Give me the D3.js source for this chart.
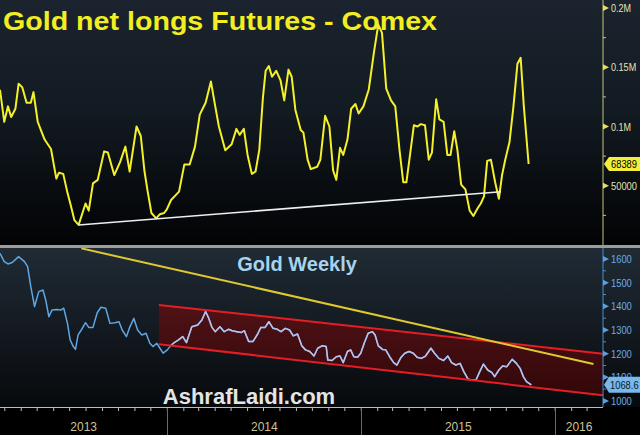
<!DOCTYPE html>
<html><head><meta charset="utf-8">
<script src="https://cdn.jsdelivr.net/npm/d3@7"></script>
<style>body{margin:0;background:#000;overflow:hidden}</style>
</head><body><svg id="c" width="640" height="435"></svg>
<script>
// ---------- DATA ----------
const netLongDates = ["2013-02-20","2013-02-28","2013-03-07","2013-03-13","2013-03-21","2013-03-27","2013-04-03","2013-04-11","2013-04-19","2013-04-24","2013-05-02","2013-05-08","2013-05-15","2013-05-27","2013-06-06","2013-06-11","2013-06-19","2013-06-27","2013-07-04","2013-07-10","2013-07-18","2013-07-31","2013-08-06","2013-08-14","2013-08-23","2013-09-04","2013-09-11","2013-09-23","2013-10-04","2013-10-14","2013-10-22","2013-11-04","2013-11-12","2013-11-19","2013-11-25","2013-12-02","2013-12-11","2013-12-18","2013-12-26","2013-12-31","2014-01-08","2014-01-23","2014-02-02","2014-02-12","2014-02-22","2014-03-03","2014-03-14","2014-03-24","2014-03-31","2014-04-08","2014-04-20","2014-05-02","2014-05-11","2014-05-17","2014-05-25","2014-06-01","2014-06-09","2014-06-16","2014-06-23","2014-06-30","2014-07-05","2014-07-11","2014-07-17","2014-07-25","2014-08-02","2014-08-09","2014-08-17","2014-08-23","2014-08-30","2014-09-09","2014-09-14","2014-09-22","2014-09-28","2014-10-10","2014-10-16","2014-10-25","2014-11-02","2014-11-09","2014-11-15","2014-11-22","2014-11-28","2014-12-06","2014-12-13","2014-12-21","2014-12-27","2015-01-05","2015-01-15","2015-01-25","2015-02-02","2015-02-09","2015-02-17","2015-02-26","2015-03-06","2015-03-14","2015-03-21","2015-03-27","2015-04-10","2015-04-17","2015-04-23","2015-05-01","2015-05-08","2015-05-14","2015-05-22","2015-05-28","2015-06-05","2015-06-12","2015-06-18","2015-06-25","2015-07-01","2015-07-08","2015-07-16","2015-07-24","2015-07-31","2015-08-08","2015-08-14","2015-08-20","2015-08-26","2015-09-02","2015-09-10","2015-09-17","2015-09-23","2015-09-29","2015-10-07","2015-10-14","2015-10-22","2015-10-28","2015-11-03","2015-11-12"];
const netLongValues = [131000,104000,117000,108000,115000,136000,133000,120000,120000,129000,104000,97000,89000,81000,56000,61000,60000,44000,32000,21000,17000,35000,29000,52000,55000,79000,78000,59000,70000,83000,62000,100000,92000,62000,45000,27000,22500,26000,27000,30000,38000,45000,68000,68000,83000,110000,120000,138000,120000,100000,80000,85000,98000,93000,98000,76000,60000,62000,80000,125000,147000,151000,142000,147000,139000,122000,148000,142000,114000,97000,95000,72000,64000,66000,72000,109000,100000,63000,55000,82000,76000,89000,115000,119000,111000,117000,131000,163000,186000,179000,132000,122000,117000,80000,53000,53000,101000,100000,102000,101000,72000,78000,123000,106000,104000,76000,76000,96000,80000,51000,47000,29000,24500,31000,35000,41000,71000,72000,53000,39000,59000,72000,87000,115000,153000,158000,117000,68389];

const goldDates = ["2013-02-20","2013-02-28","2013-03-07","2013-03-15","2013-03-27","2013-04-07","2013-04-13","2013-04-19","2013-04-26","2013-05-04","2013-05-12","2013-05-17","2013-05-23","2013-05-29","2013-06-07","2013-06-15","2013-06-20","2013-06-27","2013-07-02","2013-07-08","2013-07-12","2013-07-17","2013-07-23","2013-07-31","2013-08-06","2013-08-14","2013-08-22","2013-08-29","2013-09-07","2013-09-15","2013-09-24","2013-10-02","2013-10-08","2013-10-16","2013-10-22","2013-10-30","2013-11-06","2013-11-14","2013-11-22","2013-11-29","2013-12-05","2013-12-12","2013-12-18","2013-12-24","2014-01-01","2014-01-07","2014-01-14","2014-01-22","2014-01-30","2014-02-06","2014-02-16","2014-02-27","2014-03-07","2014-03-14","2014-03-20","2014-03-26","2014-04-01","2014-04-10","2014-04-18","2014-04-26","2014-05-03","2014-05-12","2014-05-20","2014-05-26","2014-06-03","2014-06-11","2014-06-20","2014-06-26","2014-07-04","2014-07-11","2014-07-19","2014-07-27","2014-08-03","2014-08-11","2014-08-19","2014-08-26","2014-09-03","2014-09-11","2014-09-18","2014-09-26","2014-10-04","2014-10-11","2014-10-19","2014-10-27","2014-10-30","2014-11-07","2014-11-15","2014-11-22","2014-11-28","2014-12-06","2014-12-12","2014-12-18","2014-12-25","2014-12-31","2015-01-07","2015-01-14","2015-01-22","2015-01-27","2015-02-02","2015-02-10","2015-02-16","2015-02-24","2015-03-03","2015-03-09","2015-03-17","2015-03-24","2015-04-01","2015-04-09","2015-04-16","2015-04-24","2015-05-02","2015-05-12","2015-05-19","2015-05-27","2015-06-05","2015-06-13","2015-06-20","2015-06-28","2015-07-06","2015-07-13","2015-07-21","2015-07-29","2015-08-05","2015-08-12","2015-08-19","2015-08-27","2015-09-04","2015-09-09","2015-09-17","2015-09-24","2015-10-02","2015-10-12","2015-10-20","2015-10-27","2015-11-02","2015-11-08","2015-11-17"];
const goldValues = [1624,1589,1579,1585,1610,1589,1568,1483,1399,1462,1469,1427,1356,1385,1387,1385,1392,1328,1258,1230,1218,1279,1300,1331,1311,1311,1373,1396,1392,1328,1331,1335,1300,1272,1311,1349,1300,1279,1286,1244,1230,1244,1223,1202,1216,1233,1247,1258,1272,1247,1314,1321,1342,1378,1349,1311,1293,1314,1293,1303,1297,1293,1289,1297,1251,1251,1283,1311,1311,1335,1307,1303,1293,1307,1300,1275,1283,1233,1216,1209,1190,1223,1233,1230,1173,1171,1187,1190,1162,1209,1216,1187,1185,1202,1247,1286,1293,1279,1233,1218,1216,1185,1162,1152,1185,1202,1209,1202,1185,1180,1190,1223,1202,1180,1171,1190,1162,1152,1159,1124,1092,1089,1089,1124,1156,1131,1120,1103,1131,1148,1145,1176,1159,1138,1103,1082,1068.6];

const netLongSupportDates = ["2013-07-18","2015-09-21"];
const netLongSupportValues = [16900,45000];
const goldTrendDates = ["2013-07-23","2016-03-13"];
const goldTrendValues = [1645,1156];
const channelDates = ["2013-12-16","2016-03-31"];
const channelUpper = [1406,1200];
const channelLower = [1240,1024];

const topTicks = [50000,100000,150000,200000];
const topTickLabels = ["50000","0.1M","0.15M","0.2M"];
const bottomTicks = [1000,1100,1200,1300,1400,1500,1600];
const yearLabels = ["2013","2014","2015","2016"];
const lastNetLongLabel = "68389";
const lastGoldLabel = "1068.6";

// ---------- CHART ----------
const W = 640, H = 435;
const plotRight = 603;
const parse = d3.timeParse("%Y-%m-%d");
const svg = d3.select("#c");
const defs = svg.append("defs");

const gTop = defs.append("linearGradient").attr("id","bgTop").attr("x1",0).attr("y1",0).attr("x2",0).attr("y2",1);
gTop.append("stop").attr("offset","0%").attr("stop-color","#1b242e");
gTop.append("stop").attr("offset","45%").attr("stop-color","#121a22");
gTop.append("stop").attr("offset","100%").attr("stop-color","#020304");
const gBot = defs.append("linearGradient").attr("id","bgBot").attr("x1",0).attr("y1",0).attr("x2",0).attr("y2",1);
gBot.append("stop").attr("offset","0%").attr("stop-color","#202b35");
gBot.append("stop").attr("offset","100%").attr("stop-color","#07090c");
const gCh = defs.append("linearGradient").attr("id","chan").attr("x1",0).attr("y1",0).attr("x2",0).attr("y2",1);
gCh.append("stop").attr("offset","0%").attr("stop-color","#5a1014").attr("stop-opacity",0.85);
gCh.append("stop").attr("offset","100%").attr("stop-color","#3a0608").attr("stop-opacity",0.85);

defs.append("clipPath").attr("id","clipTop").append("rect").attr("x",0).attr("y",0).attr("width",plotRight).attr("height",245);
defs.append("clipPath").attr("id","clipBot").append("rect").attr("x",0).attr("y",248).attr("width",plotRight).attr("height",159);

// backgrounds
svg.append("rect").attr("x",0).attr("y",0).attr("width",W).attr("height",245).attr("fill","url(#bgTop)");
svg.append("rect").attr("x",0).attr("y",248).attr("width",W).attr("height",159).attr("fill","url(#bgBot)");
svg.append("rect").attr("x",0).attr("y",407).attr("width",W).attr("height",28).attr("fill","#000");
svg.append("rect").attr("x",0).attr("y",245).attr("width",W).attr("height",3).attr("fill","#9c9c9c");

const x = d3.scaleTime().domain([parse("2013-02-20"), parse("2016-03-31")]).range([0, plotRight]);
const yTop = d3.scaleLinear().domain([0, 200000]).range([245, 8]);
const yBot = d3.scaleLinear().domain([1000, 1600]).range([401, 259]);

// condensed axis label helper
const axFont = "'Liberation Sans','DejaVu Sans',sans-serif";
const labW = s => d3.sum(s.split(""), c => c === "." ? 2.6 : (c === "M" ? 7 : 5.2));
function axLabel(sel){
  return sel.attr("font-family",axFont).attr("font-size",10)
    .attr("lengthAdjust","spacingAndGlyphs").attr("textLength", function(){ return labW(this.textContent); });
}

// ---------- TOP PANEL ----------
const topPanel = svg.append("g").attr("clip-path","url(#clipTop)");
const netData = netLongDates.map((d,i)=>({d:parse(d), v:netLongValues[i]}));
topPanel.append("path").datum(netData)
  .attr("d", d3.line().x(p=>x(p.d)).y(p=>yTop(p.v)))
  .attr("fill","none").attr("stroke","#f4f02a").attr("stroke-width",2).attr("stroke-linejoin","round");
const sup = netLongSupportDates.map((d,i)=>({d:parse(d), v:netLongSupportValues[i]}));
topPanel.append("path").datum(sup)
  .attr("d", d3.line().x(p=>x(p.d)).y(p=>yTop(p.v)))
  .attr("stroke","#eeeeee").attr("stroke-width",1.6).attr("fill","none");

svg.append("text").attr("x",3).attr("y",30)
  .attr("font-family","'Liberation Sans', Arial, sans-serif").attr("font-weight","bold")
  .attr("font-size",26.5).attr("fill","#f2ee22")
  .attr("textLength",434).attr("lengthAdjust","spacingAndGlyphs")
  .text("Gold net longs Futures - Comex");

// top axis
svg.append("line").attr("x1",plotRight).attr("x2",plotRight).attr("y1",0).attr("y2",245).attr("stroke","#c9c27a").attr("stroke-width",1);
const topAx = svg.append("g");
topAx.selectAll("path.tri").data(topTicks).join("path")
  .attr("d", d=>`M${plotRight},${yTop(d)-3}L${plotRight+6},${yTop(d)}L${plotRight},${yTop(d)+3}Z`)
  .attr("fill","#e8e060");
topAx.selectAll("text").data(topTicks).join("text")
  .attr("x",plotRight+8).attr("y",d=>yTop(d)+4).attr("fill","#e6e2b0")
  .text((d,i)=>topTickLabels[i]).call(axLabel);
const minorTop = d3.range(25000, 200001, 50000);
topAx.selectAll("line.mn").data(minorTop).join("line")
  .attr("x1",plotRight).attr("x2",plotRight+3).attr("y1",d=>yTop(d)).attr("y2",d=>yTop(d))
  .attr("stroke","#c9c27a");
{
  const yy = yTop(netLongValues[netLongValues.length-1]);
  svg.append("path").attr("d",`M${plotRight+1},${yy}L${plotRight+6},${yy-7}L${W},${yy-7}L${W},${yy+7}L${plotRight+6},${yy+7}Z`).attr("fill","#f4ee3a");
  svg.append("text").attr("x",plotRight+8).attr("y",yy+4).attr("fill","#000").text(lastNetLongLabel).call(axLabel);
}

// ---------- BOTTOM PANEL ----------
const botPanel = svg.append("g").attr("clip-path","url(#clipBot)");
const cd = channelDates.map(parse);
const chanPath = `M${x(cd[0])},${yBot(channelUpper[0])}L${x(cd[1])},${yBot(channelUpper[1])}L${x(cd[1])},${yBot(channelLower[1])}L${x(cd[0])},${yBot(channelLower[0])}Z`;
defs.append("clipPath").attr("id","clipChan").append("path").attr("d", chanPath);
botPanel.append("path").attr("d", chanPath).attr("fill","url(#chan)");

const goldData = goldDates.map((d,i)=>({d:parse(d), v:goldValues[i]}));
const goldLine = d3.line().x(p=>x(p.d)).y(p=>yBot(p.v));
botPanel.append("path").datum(goldData).attr("d", goldLine)
  .attr("fill","none").attr("stroke","#5fa6e4").attr("stroke-width",1.5).attr("stroke-linejoin","round");
botPanel.append("path").datum(goldData).attr("d", goldLine).attr("clip-path","url(#clipChan)")
  .attr("fill","none").attr("stroke","#b9c0ea").attr("stroke-width",1.5).attr("stroke-linejoin","round");

botPanel.append("line").attr("x1",x(cd[0])).attr("y1",yBot(channelUpper[0])).attr("x2",x(cd[1])).attr("y2",yBot(channelUpper[1]))
  .attr("stroke","#e41e24").attr("stroke-width",2);
botPanel.append("line").attr("x1",x(cd[0])).attr("y1",yBot(channelLower[0])).attr("x2",x(cd[1])).attr("y2",yBot(channelLower[1]))
  .attr("stroke","#e41e24").attr("stroke-width",2);

const gt = goldTrendDates.map((d,i)=>({d:parse(d), v:goldTrendValues[i]}));
botPanel.append("path").datum(gt).attr("d", d3.line().x(p=>x(p.d)).y(p=>yBot(p.v)))
  .attr("stroke","#e0c830").attr("stroke-width",2).attr("fill","none");

svg.append("text").attr("x",297).attr("y",271).attr("text-anchor","middle")
  .attr("font-family","'Liberation Sans', Arial, sans-serif").attr("font-weight","bold")
  .attr("font-size",20).attr("fill","#a6d4ee").text("Gold Weekly");
svg.append("text").attr("x",249).attr("y",404).attr("text-anchor","middle")
  .attr("font-family","'Liberation Sans', Arial, sans-serif").attr("font-weight","bold")
  .attr("font-size",22).attr("fill","#e4e4e4").text("AshrafLaidi.com");

// bottom axis
svg.append("line").attr("x1",plotRight).attr("x2",plotRight).attr("y1",248).attr("y2",407).attr("stroke","#4a8ccc").attr("stroke-width",1);
const botAx = svg.append("g");
botAx.selectAll("path.tri").data(bottomTicks).join("path")
  .attr("d", d=>`M${plotRight},${yBot(d)-3}L${plotRight+6},${yBot(d)}L${plotRight},${yBot(d)+3}Z`)
  .attr("fill","#5aa0e0");
botAx.selectAll("text").data(bottomTicks).join("text")
  .attr("x",plotRight+8).attr("y",d=>yBot(d)+4).attr("fill","#6aaee8")
  .text(d=>String(d)).call(axLabel);
botAx.selectAll("line.mn").data(d3.range(1050,1600,100)).join("line")
  .attr("x1",plotRight).attr("x2",plotRight+3).attr("y1",d=>yBot(d)).attr("y2",d=>yBot(d))
  .attr("stroke","#4a8ccc");
{
  const yy = yBot(goldValues[goldValues.length-1]);
  svg.append("path").attr("d",`M${plotRight+1},${yy}L${plotRight+6},${yy-8}L${W},${yy-8}L${W},${yy+8}L${plotRight+6},${yy+8}Z`).attr("fill","#78b8ec");
  svg.append("text").attr("x",plotRight+7).attr("y",yy+4).attr("fill","#0a1a2a").text(lastGoldLabel).call(axLabel);
}

// x axis
svg.append("line").attr("x1",0).attr("x2",plotRight).attr("y1",407.5).attr("y2",407.5).attr("stroke","#bdbdbd").attr("stroke-width",1);
const months = d3.timeMonth.range(x.domain()[0], x.domain()[1]);
svg.selectAll("line.mt").data(months).join("line")
  .attr("x1",d=>x(d)).attr("x2",d=>x(d)).attr("y1",407).attr("y2",411)
  .attr("stroke","#bdbdbd");
const years = d3.timeYear.range(x.domain()[0], x.domain()[1]);
svg.selectAll("line.yt").data(years).join("line")
  .attr("x1",d=>Math.round(x(d))+0.5).attr("x2",d=>Math.round(x(d))+0.5).attr("y1",408).attr("y2",435)
  .attr("stroke","#6a6a6a");
const yearStarts = [x.domain()[0], ...years];
svg.selectAll("text.yl").data(yearLabels).join("text")
  .attr("x",(d,i)=>{const a=x(yearStarts[i]); const b=i+1<yearStarts.length?x(yearStarts[i+1]):plotRight; return (a+b)/2;})
  .attr("y",431).attr("text-anchor","middle")
  .attr("font-family",axFont).attr("font-size",12).attr("fill","#cfc294")
  .text(d=>d);
</script></body></html>
